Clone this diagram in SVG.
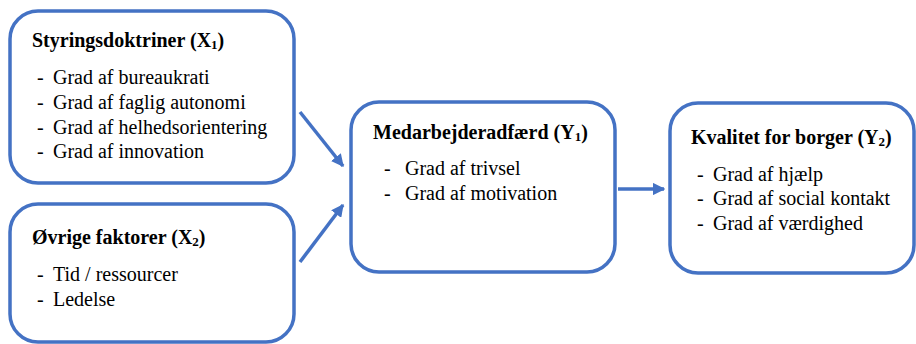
<svg xmlns="http://www.w3.org/2000/svg" width="916" height="344" viewBox="0 0 916 344">
<style>
.box{fill:#fff;stroke:#4472C4;stroke-width:3.5}
.t{font-size:20px;fill:#000}
.b{font-weight:bold}
.c{stroke:#4472C4;stroke-width:3.5;fill:none}
</style>
<defs>
<marker id="ah" viewBox="0 0 10 10" refX="9" refY="5" markerWidth="3.6" markerHeight="3.6" orient="auto" markerUnits="strokeWidth">
<path d="M0,0 L10,5 L0,10 z" fill="#4472C4"/>
</marker>
</defs>
<rect width="916" height="344" fill="#fff"/>
<g id="connectors">
<line class="c" x1="300" y1="112" x2="343" y2="166" marker-end="url(#ah)"/>
<line class="c" x1="300" y1="262" x2="343" y2="205" marker-end="url(#ah)"/>
<line class="c" x1="618" y1="189" x2="664" y2="189" marker-end="url(#ah)"/>
</g>
<g font-family="'Liberation Serif', 'DejaVu Serif', serif">
<g id="x1">
<rect class="box" x="10" y="11" width="284" height="172" rx="28"/>
<text class="t b" x="32" y="47">Styringsdoktriner (X<tspan font-size="13" dy="2">1</tspan><tspan dy="-2">)</tspan></text>
<text class="t" x="37" y="84">-</text><text class="t" x="53" y="84">Grad af bureaukrati</text>
<text class="t" x="37" y="109">-</text><text class="t" x="53" y="109">Grad af faglig autonomi</text>
<text class="t" x="37" y="134">-</text><text class="t" x="53" y="134">Grad af helhedsorientering</text>
<text class="t" x="37" y="158">-</text><text class="t" x="53" y="158">Grad af innovation</text>
</g>
<g id="x2">
<rect class="box" x="10" y="204" width="284" height="138" rx="28"/>
<text class="t b" x="32" y="244">Øvrige faktorer (X<tspan font-size="13" dy="2">2</tspan><tspan dy="-2">)</tspan></text>
<text class="t" x="37" y="281">-</text><text class="t" x="53" y="281">Tid / ressourcer</text>
<text class="t" x="37" y="306">-</text><text class="t" x="53" y="306">Ledelse</text>
</g>
<g id="y1">
<rect class="box" x="351" y="102" width="264" height="170" rx="28"/>
<text class="t b" x="373" y="139">Medarbejderadfærd (Y<tspan font-size="13" dy="2">1</tspan><tspan dy="-2">)</tspan></text>
<text class="t" x="384" y="175">-</text><text class="t" x="405" y="175">Grad af trivsel</text>
<text class="t" x="384" y="200">-</text><text class="t" x="405" y="200">Grad af motivation</text>
</g>
<g id="y2">
<rect class="box" x="670" y="103" width="244" height="170" rx="28"/>
<text class="t b" x="691" y="144">Kvalitet for borger (Y<tspan font-size="13" dy="2">2</tspan><tspan dy="-2">)</tspan></text>
<text class="t" x="697" y="181">-</text><text class="t" x="713" y="181">Grad af hjælp</text>
<text class="t" x="697" y="205">-</text><text class="t" x="713" y="205">Grad af social kontakt</text>
<text class="t" x="697" y="230">-</text><text class="t" x="713" y="230">Grad af værdighed</text>
</g>
</g>
</svg>
